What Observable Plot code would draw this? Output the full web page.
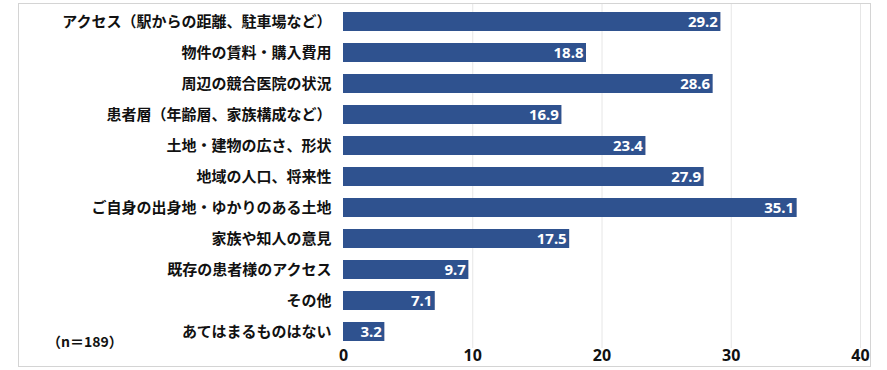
<!DOCTYPE html>
<html><head><meta charset="utf-8">
<script src="https://cdn.jsdelivr.net/npm/d3@7"></script>
<script src="https://cdn.jsdelivr.net/npm/@observablehq/plot@0.6"></script>
<style>
body{margin:0;background:#fff;}
#wrap{position:relative;width:887px;height:370px;font-family:"Noto Sans CJK JP","Noto Sans",sans-serif;}
#border{position:absolute;left:18px;top:3px;width:851px;height:362px;border:1px solid #d4d4d4;pointer-events:none;}
#note{position:absolute;left:47px;top:331px;font-size:14px;font-weight:bold;color:#111;}
</style></head>
<body><div id="wrap"><div id="border"></div><div id="note">（n＝189）</div></div>
<script>
const categories = [
  "アクセス（駅からの距離、駐車場など）",
  "物件の賃料・購入費用",
  "周辺の競合医院の状況",
  "患者層（年齢層、家族構成など）",
  "土地・建物の広さ、形状",
  "地域の人口、将来性",
  "ご自身の出身地・ゆかりのある土地",
  "家族や知人の意見",
  "既存の患者様のアクセス",
  "その他",
  "あてはまるものはない"
];
const values = [29.2, 18.8, 28.6, 16.9, 23.4, 27.9, 35.1, 17.5, 9.7, 7.1, 3.2];
const xTicks = [0, 10, 20, 30, 40];

const data = categories.map((c, i) => ({cat: c, v: values[i]}));

const chart = Plot.plot({
  width: 887,
  height: 370,
  marginLeft: 343,
  marginRight: 27,
  marginTop: 4,
  marginBottom: 22,
  style: {fontFamily: '"Noto Sans CJK JP","Noto Sans",sans-serif', background: "transparent"},
  x: {domain: [0, 40], ticks: xTicks, label: null},
  y: {domain: categories, label: null, paddingInner: 0.4, paddingOuter: 0.1},
  marks: [
    Plot.gridX(xTicks.filter(d => d > 0), {stroke: "#e6e6e6", strokeOpacity: 1}),
    Plot.barX(data, {x: "v", y: "cat", fill: "#2f528f"}),
    Plot.text(data, {x: "v", y: "cat", text: d => d.v.toFixed(1), textAnchor: "end", dx: -3, fill: "#fff", fontWeight: "bold", fontSize: 15, fontFamily: '"Noto Sans","Noto Sans CJK JP",sans-serif'}),
    Plot.axisY({tickSize: 0, tickPadding: 12, fontSize: 15, fontWeight: "bold", fill: "#111", label: null}),
    Plot.axisX({ticks: xTicks, tickSize: 0, tickPadding: 1, fontSize: 16, fontWeight: "bold", fill: "#111", label: null, fontFamily: '"Noto Sans",sans-serif'})
  ]
});
chart.style.position = "absolute";
chart.style.left = "0";
chart.style.top = "0";
document.getElementById("wrap").prepend(chart);
</script>
</body></html>
